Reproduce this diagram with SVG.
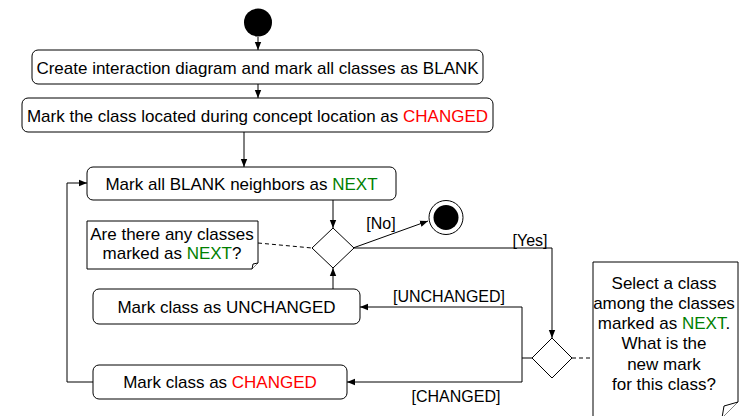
<svg xmlns="http://www.w3.org/2000/svg" width="740" height="416" viewBox="0 0 740 416">
  <style>
    .box { fill: #ffffff; stroke: #000000; stroke-width: 1; }
    .edge { fill: none; stroke: #000000; stroke-width: 1; }
    .dash { fill: none; stroke: #000000; stroke-width: 1; stroke-dasharray: 4 3; }
    text { font-family: "Liberation Sans", Arial, sans-serif; font-size: 17px; fill: #000000; }
    .c { text-anchor: middle; dominant-baseline: central; }
    .lbl { font-size: 16px; }
    .red { fill: #ff0000; }
    .green { fill: #008000; }
  </style>
  <defs>
    <marker id="arrow" viewBox="0 0 8 8" refX="8" refY="4" markerWidth="8" markerHeight="8" markerUnits="userSpaceOnUse" orient="auto">
      <path d="M0,0.8 L8,4 L0,7.2 Z" fill="#000000"/>
    </marker>
  </defs>

  <!-- connectors -->
  <g id="connectors">
    <path class="edge" d="M258,37 V50" marker-end="url(#arrow)"/>
    <path class="edge" d="M258,84 V98" marker-end="url(#arrow)"/>
    <path class="edge" d="M244,132 V167" marker-end="url(#arrow)"/>
    <path class="edge" d="M333,200 V228" marker-end="url(#arrow)"/>
    <path class="edge" d="M353,248 L428,221" marker-end="url(#arrow)"/>
    <path class="edge" d="M353,248 H552 V338" marker-end="url(#arrow)"/>
    <path class="edge" d="M532,358 H522 V307 H360" marker-end="url(#arrow)"/>
    <path class="edge" d="M522,358 V382 H347" marker-end="url(#arrow)"/>
    <path class="edge" d="M333,289 V268" marker-end="url(#arrow)"/>
    <path class="edge" d="M93,382 H67 V183 H87" marker-end="url(#arrow)"/>
    <path class="dash" d="M258,243 L312,248"/>
    <path class="dash" d="M572,358 H593"/>
    <text class="lbl" x="381" y="223" text-anchor="middle" dominant-baseline="central">[No]</text>
    <text class="lbl" x="530" y="240" text-anchor="middle" dominant-baseline="central">[Yes]</text>
    <text class="lbl" x="449" y="296" text-anchor="middle" dominant-baseline="central">[UNCHANGED]</text>
    <text class="lbl" x="456" y="396" text-anchor="middle" dominant-baseline="central">[CHANGED]</text>
  </g>

  <g id="start">
    <circle cx="258" cy="22.5" r="14" fill="#000000"/>
  </g>

  <g id="create-diagram">
    <rect class="box" x="32" y="50" width="451" height="34" rx="6"/>
    <text class="c" x="257.5" y="68">Create interaction diagram and mark all classes as BLANK</text>
  </g>

  <g id="mark-located">
    <rect class="box" x="22" y="98" width="471" height="34" rx="6"/>
    <text class="c" x="257.5" y="116">Mark the class located during concept location as <tspan class="red">CHANGED</tspan></text>
  </g>

  <g id="mark-neighbors">
    <rect class="box" x="87" y="167" width="309" height="33" rx="6"/>
    <text class="c" x="241.5" y="184">Mark all BLANK neighbors as <tspan class="green">NEXT</tspan></text>
  </g>

  <g id="decision-next">
    <path class="box" d="M333,228 L354,248 L333,268 L312,248 Z"/>
  </g>

  <g id="note-next">
    <path class="box" d="M87,221 H258 V263 L252,269 H87 Z"/>
    <path class="box" d="M258,263 L253,264 L252,269"/>
    <text class="c" x="172" y="234">Are there any classes</text>
    <text class="c" x="172" y="253">marked as <tspan class="green">NEXT</tspan>?</text>
  </g>

  <g id="end">
    <circle cx="446" cy="217.5" r="17" fill="#ffffff" stroke="#000000" stroke-width="1"/>
    <circle cx="446" cy="217.5" r="12.5" fill="#000000"/>
  </g>

  <g id="decision-mark">
    <path class="box" d="M552,338 L572,358 L552,378 L532,358 Z"/>
  </g>

  <g id="note-select">
    <path class="box" d="M593,262 H738 V402 L722,418 H593 Z"/>
    <path class="box" d="M738,402 L724,406 L722,418"/>
    <text class="c" x="664" y="283">Select a class</text>
    <text class="c" x="664" y="303">among the classes</text>
    <text class="c" x="664" y="323">marked as <tspan class="green">NEXT</tspan>.</text>
    <text class="c" x="664" y="343">What is the</text>
    <text class="c" x="664" y="364">new mark</text>
    <text class="c" x="664" y="384">for this class?</text>
  </g>

  <g id="mark-unchanged">
    <rect class="box" x="93" y="289" width="267" height="35" rx="6"/>
    <text class="c" x="226.5" y="307">Mark class as UNCHANGED</text>
  </g>

  <g id="mark-changed">
    <rect class="box" x="93" y="365" width="254" height="34" rx="6"/>
    <text class="c" x="220" y="382">Mark class as <tspan class="red">CHANGED</tspan></text>
  </g>
</svg>
